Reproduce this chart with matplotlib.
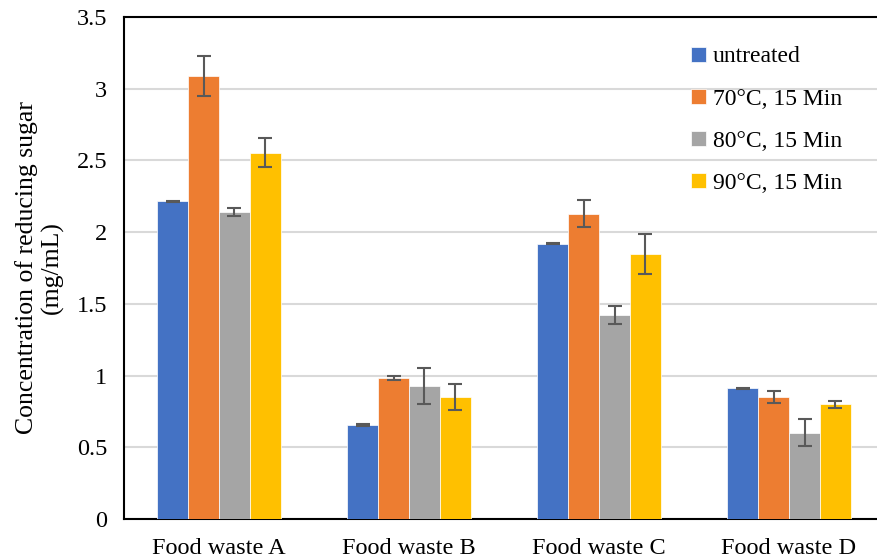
import matplotlib
matplotlib.use("Agg")
import matplotlib.pyplot as plt
import numpy as np

categories = ["Food waste A", "Food waste B", "Food waste C", "Food waste D"]
series_names = ["untreated", "70°C, 15 Min", "80°C, 15 Min", "90°C, 15 Min"]
untreated = [2.215, 0.655, 1.920, 0.911]
t70 = [3.09, 0.983, 2.129, 0.848]
t80 = [2.14, 0.929, 1.423, 0.603]
t90 = [2.555, 0.850, 1.847, 0.799]
err_untreated = [0.005, 0.005, 0.005, 0.005]
err_70 = [0.14, 0.017, 0.095, 0.041]
err_80 = [0.025, 0.125, 0.065, 0.095]
err_90 = [0.10, 0.088, 0.14, 0.027]
yticks = [0, 0.5, 1, 1.5, 2, 2.5, 3, 3.5]
ytick_labels = ["0", "0.5", "1", "1.5", "2", "2.5", "3", "3.5"]

colors = ["#4472C4", "#ED7D31", "#A5A5A5", "#FFC000"]

plt.rcParams['font.family'] = ['Liberation Serif', 'DejaVu Serif']

fig = plt.figure(figsize=(8.77, 5.6), dpi=100)
ax = fig.add_axes([124/877, 41/560, 1 - 124/877, (519-17)/560])

x = np.arange(len(categories))
width = 0.163
vals = [untreated, t70, t80, t90]
errs = [err_untreated, err_70, err_80, err_90]
for i, (v, e) in enumerate(zip(vals, errs)):
    ax.bar(x + (i - 1.5) * width, v, width, color=colors[i], label=series_names[i],
           edgecolor='white', linewidth=0.5, zorder=3,
           yerr=e, error_kw=dict(ecolor='#595959', elinewidth=1.5, capsize=5, capthick=1.5, zorder=4))

ax.set_xlim(-0.5, 3.463)
ax.set_ylim(0, 3.5)
ax.set_yticks(yticks)
ax.set_yticklabels(ytick_labels)
ax.set_xticks(x)
ax.set_xticklabels(categories)
ax.tick_params(axis='both', length=0, labelsize=17.5, colors='black')
ax.tick_params(axis='y', pad=12)
ax.tick_params(axis='x', pad=14)
ax.grid(axis='y', color='#D9D9D9', linewidth=1.5, zorder=0)
ax.set_axisbelow(True)
for s in ['top', 'left', 'bottom']:
    ax.spines[s].set_color('black')
    ax.spines[s].set_linewidth(1.5)
ax.spines['right'].set_visible(False)

ax.set_ylabel("Concentration of reducing sugar\n(mg/mL)", fontsize=18.5, labelpad=9,
              linespacing=1.2)

leg = ax.legend(loc='upper left', bbox_to_anchor=((682-124)/753, 1 - (37-17)/502),
                frameon=False, fontsize=17, handlelength=0.6, handleheight=0.6,
                handletextpad=0.3, labelspacing=0.9, borderaxespad=0)

fig.savefig("out.png", dpi=100)
